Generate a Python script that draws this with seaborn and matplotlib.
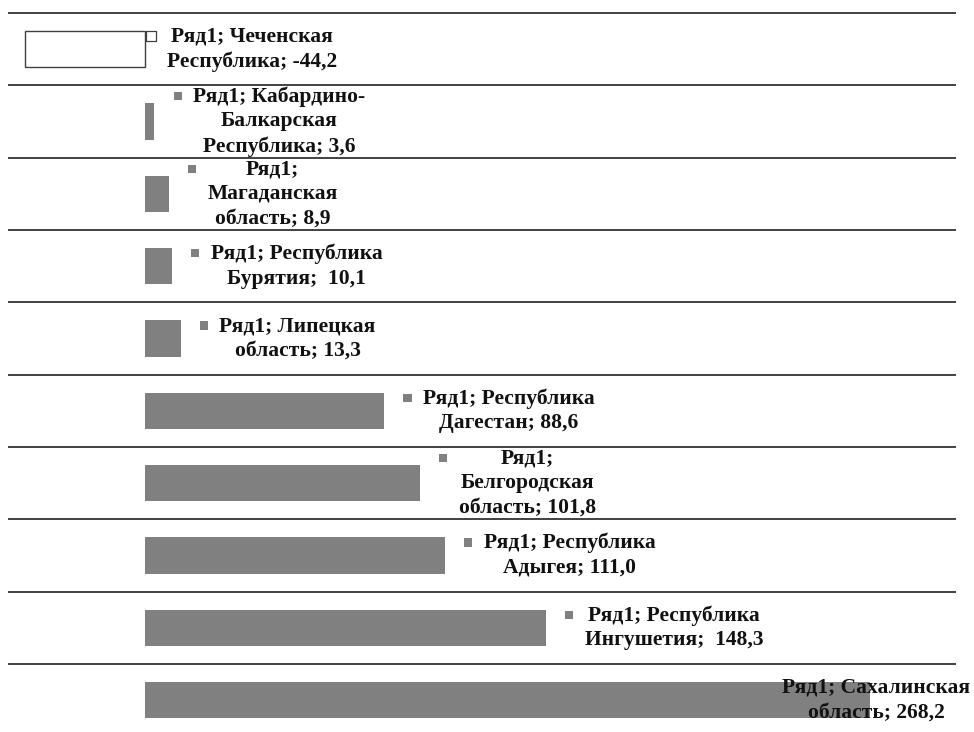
import numpy as np
import pandas as pd
import matplotlib
matplotlib.use("Agg")
import matplotlib.pyplot as plt
import seaborn as sns

# data ------------------------------------------------------------------------

series = "Ряд1"
regions = [
    "Чеченская Республика",
    "Кабардино-Балкарская Республика",
    "Магаданская область",
    "Республика Бурятия",
    "Липецкая область",
    "Республика Дагестан",
    "Белгородская область",
    "Республика Адыгея",
    "Республика Ингушетия",
    "Сахалинская область",
]
values = [-44.2, 3.6, 8.9, 10.1, 13.3, 88.6, 101.8, 111.0, 148.3, 268.2]
labels = [
    "Ряд1; Чеченская\nРеспублика; -44,2",
    "Ряд1; Кабардино-\nБалкарская\nРеспублика; 3,6",
    "Ряд1;\nМагаданская\nобласть; 8,9",
    "Ряд1; Республика\nБурятия;  10,1",
    "Ряд1; Липецкая\nобласть; 13,3",
    "Ряд1; Республика\nДагестан; 88,6",
    "Ряд1;\nБелгородская\nобласть; 101,8",
    "Ряд1; Республика\nАдыгея; 111,0",
    "Ряд1; Республика\nИнгушетия;  148,3",
    "Ряд1; Сахалинская\nобласть; 268,2",
]

df = pd.DataFrame({"region": regions, "value": values})

# plot ------------------------------------------------------------------------

sns.set_theme(style="white")
plt.rcParams["font.family"] = ["Liberation Serif", "DejaVu Serif"]

W, H = 974, 732
fig = plt.figure(figsize=(W / 100, H / 100), dpi=100)
ax = fig.add_axes([8 / W, 1 - 736.3 / H, 948 / W, 723.3 / H])

bar_grey = "#808080"
bar_colors = ["white" if v < 0 else bar_grey for v in values]
sns.barplot(data=df, x="value", y="region", hue="region", palette=bar_colors,
            legend=False, width=0.5, saturation=1, orient="h", ax=ax)
for p, v in zip(ax.patches, values):
    if v < 0:
        p.set_edgecolor("#404040")
        p.set_linewidth(1.0)
    else:
        p.set_edgecolor("none")

xmin, xmax = -50.5, 300
ax.set_xlim(xmin, xmax)
ax.set_ylim(len(regions) - 0.5, -0.5)
ax.hlines(np.arange(len(regions) + 1) - 0.5, xmin, xmax,
          color="#333333", lw=1.3, clip_on=False, zorder=1)
ax.set_axis_off()

# data labels: text block right of the bar end, legend key in front of it
texts = []
for i, (v, lab) in enumerate(zip(values, labels)):
    dx = 16 if v < 0 else 28
    t = ax.annotate(lab, xy=(max(v, 0), i), xytext=(dx, 0), textcoords="offset points",
                    ha="left", va="center", multialignment="center",
                    fontsize=15.5, fontweight="bold", color="#111111", linespacing=1.3,
                    zorder=6)
    texts.append(t)

fig.canvas.draw()
renderer = fig.canvas.get_renderer()
for t in texts:
    bb = t.get_window_extent(renderer)
    if bb.x1 > W - 4:
        x, y = t.get_position()
        t.set_position((x - (bb.x1 - W + 4) * 72 / fig.dpi, y))

fig.canvas.draw()
inv = ax.transData.inverted()
for t, v, lab in zip(texts, values, labels):
    bb = t.get_window_extent(renderer)
    n = lab.count("\n") + 1
    line_h = bb.height / n
    mx, my = inv.transform((bb.x0 - 15.5, bb.y1 - line_h * 0.42))
    if v < 0:
        ax.scatter([mx], [my], marker="s", s=50, color="white", edgecolor="#404040",
                   linewidths=0.9, clip_on=False, zorder=5)
    else:
        ax.scatter([mx], [my], marker="s", s=36, color=bar_grey, edgecolor="none",
                   clip_on=False, zorder=5)

fig.savefig("out.png", dpi=100)
